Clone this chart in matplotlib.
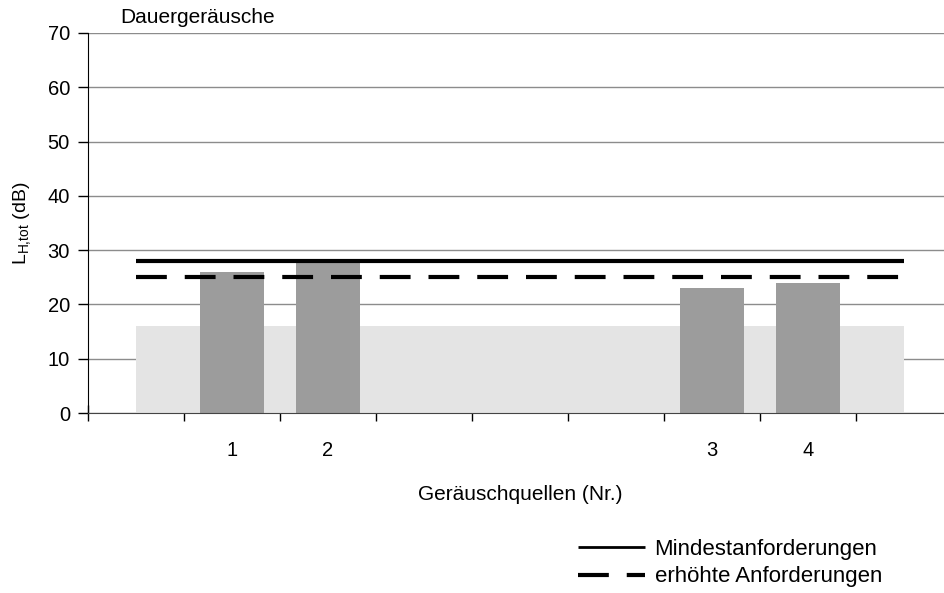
import numpy as np
import matplotlib.pyplot as plt

plt.rcParams['font.family'] = ['Liberation Sans', 'DejaVu Sans']

# slots on the x axis (tick labels), values of the sources
slot_labels = ["", "1", "2", "", "", "", "3", "4", ""]
pegel = [np.nan, 26, 28, np.nan, np.nan, np.nan, 23, 24, np.nan]
grundpegel = 16          # light grey background band
mindest = 28             # Mindestanforderungen
erhoeht = 25             # erhöhte Anforderungen
band_von, band_bis = 0, 8

fig = plt.figure(figsize=(9.44, 5.93), dpi=100)
ax = fig.add_axes([0.0932, 0.3035, 0.915, 0.641])

x = np.arange(len(slot_labels))

ax.fill_between([band_von, band_bis], 0, grundpegel, color='#e4e4e4', lw=0, zorder=1)
ax.bar(x, pegel, width=0.667, color='#9c9c9c', zorder=2)

ax.plot([band_von, band_bis], [mindest, mindest], color='black', lw=3, zorder=3,
        solid_capstyle='butt', label='Mindestanforderungen')
ax.plot([band_von, band_bis], [erhoeht, erhoeht], color='black', lw=3, zorder=3,
        linestyle=(0, (7.4, 4.3)), dash_capstyle='butt', label='erhöhte Anforderungen')

ax.set_xlim(-0.5, 8.5)
ax.set_ylim(0, 70)
ax.set_yticks(np.arange(0, 71, 10))
ax.yaxis.grid(True, color='#8c8c8c', lw=1)
ax.set_axisbelow(True)

# ticks at slot boundaries, labels at slot centres
ax.set_xticks(np.arange(-0.5, 9, 1))
ax.set_xticklabels([])
ax.set_xticks(x, minor=True)
ax.set_xticklabels(slot_labels, minor=True, fontsize=14.5)
ax.tick_params(axis='x', which='major', direction='inout', length=12, width=1)
ax.tick_params(axis='x', which='minor', length=0, pad=20)
ax.tick_params(axis='y', direction='out', length=7, width=1, labelsize=14.5, pad=6)

for s in ['top', 'right']:
    ax.spines[s].set_visible(False)
ax.spines['left'].set_color('black')
ax.spines['bottom'].set_color('#444444')

ax.set_ylabel(r'L$_{\mathregular{H{,}tot}}$ (dB)', fontsize=14, labelpad=10)
ax.set_xlabel('Geräuschquellen (Nr.)', fontsize=15, labelpad=18)
fig.text(0.127, 0.955, 'Dauergeräusche', fontsize=15, ha='left', va='bottom')

leg = fig.legend(loc='center left', bbox_to_anchor=(0.591, 0.0506), frameon=False,
                 fontsize=16, handlelength=3.0, handletextpad=0.45, labelspacing=0.3,
                 bbox_transform=fig.transFigure)
leg.get_lines()[0].set_linewidth(2)

fig.savefig('out.png', dpi=100)
